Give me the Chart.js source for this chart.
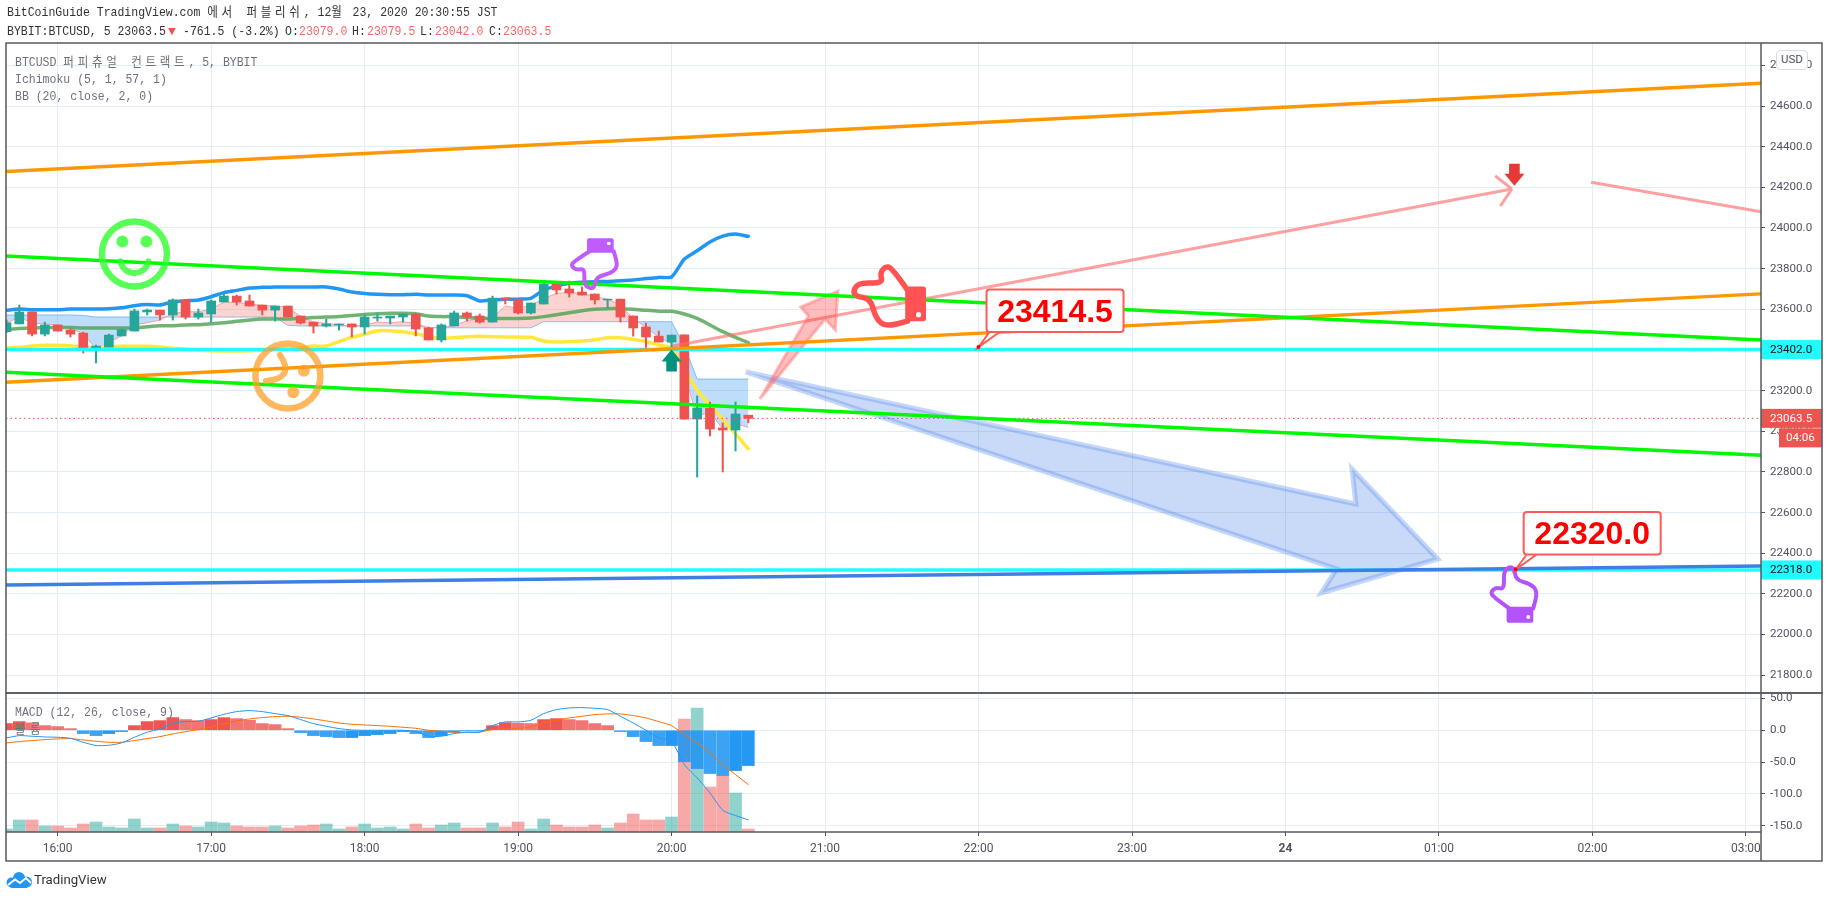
<!DOCTYPE html>
<html>
<head>
<meta charset="utf-8">
<title>BTCUSD</title>
<script src="https://cdn.jsdelivr.net/npm/chart.js@4/dist/chart.umd.js"></script>
<style>
    html, body { margin: 0; background: #fff; width: 1828px; height: 898px; overflow: hidden; }
    canvas { position: absolute; left: 0; top: 0; }
    .t { position: absolute; white-space: pre; font: 13px/14px "Liberation Mono", "Noto Sans CJK KR", monospace; transform: scaleX(.885); transform-origin: 0 0; color: #333; }
    .t span { letter-spacing: 4.2px; }
    .g { color: #6f727c; }
    .r { color: #f7676a; }
    #usd { position: absolute; left: 1776px; top: 50px; width: 30px; height: 18px; background: #fff; border: 1px solid #d6dce5; border-radius: 4px; font: 11.5px/17px Roboto, sans-serif; color: #50535e; text-align: center; }
    #brand { position: absolute; left: 34px; top: 871px; font: 13.2px/18px Roboto, sans-serif; color: #333; }
    #logo { position: absolute; left: 6px; top: 872px; }
</style>
</head>
<body>
<canvas id="mainPane" width="1828" height="898"></canvas>
<canvas id="macdPane" width="1828" height="898"></canvas>

<div class="t" style="left:7px;top:6px">BitCoinGuide TradingView.com <span>에서 퍼블리쉬</span>, 12<span>월</span> 23, 2020 20:30:55 JST</div>
<div class="t" style="left:7px;top:25px">BYBIT:BTCUSD, 5 23063.5</div>
<div class="t" style="left:168px;top:25px;transform:none;font-size:13px;color:#ef5350">▼</div>
<div class="t" style="left:183px;top:25px">-761.5 (-3.2%)</div>
<div class="t" style="left:285px;top:25px">O:</div><div class="t r" style="left:299px;top:25px">23079.0</div>
<div class="t" style="left:352px;top:25px">H:</div><div class="t r" style="left:367px;top:25px">23079.5</div>
<div class="t" style="left:420px;top:25px">L:</div><div class="t r" style="left:435px;top:25px">23042.0</div>
<div class="t" style="left:489px;top:25px">C:</div><div class="t r" style="left:503px;top:25px">23063.5</div>

<div class="t g" style="left:15px;top:56px">BTCUSD <span>퍼피츄얼 컨트랙트</span>, 5, BYBIT</div>
<div class="t g" style="left:15px;top:73px">Ichimoku (5, 1, 57, 1)</div>
<div class="t g" style="left:15px;top:90px">BB (20, close, 2, 0)</div>
<div class="t g" style="left:15px;top:706px">MACD (12, 26, close, 9)</div>
<div class="t g" style="left:15px;top:723px;letter-spacing:5px">볼륨</div>

<div id="usd">USD</div>
<svg id="logo" width="26" height="16" viewBox="0 0 26 16">
    <circle cx="5.5" cy="10.5" r="5" fill="#2196f3"/>
    <circle cx="13" cy="6" r="6" fill="#2196f3"/>
    <circle cx="20.5" cy="10" r="5.5" fill="#2196f3"/>
    <rect x="5" y="9" width="16" height="7" fill="#2196f3"/>
    <polyline points="2,13 9,7.5 14,11 20,6 25,11" fill="none" stroke="#fff" stroke-width="2"/>
</svg>
<div id="brand">TradingView</div>

<script>
// bars run from 15:40 (-4) to 20:30 (54), one unit is one 5 minute bar, 0 is 16:00
const candleOpen = [23490, 23528, 23587, 23478, 23523, 23498, 23483, 23400, 23414, 23469,
    23493, 23587, 23596, 23572, 23646, 23562, 23577, 23636, 23665, 23641,
    23621, 23596, 23616, 23567, 23537, 23518, 23523, 23528, 23513, 23557,
    23557, 23562, 23577, 23508, 23449, 23518, 23582, 23567, 23537, 23655,
    23650, 23582, 23626, 23724, 23700, 23685, 23675, 23646, 23650, 23567,
    23513, 23468, 23439, 23474, 23060, 23114, 23016, 23006, 23079];
const candleHigh = [23547, 23621, 23587, 23537, 23523, 23503, 23488, 23424, 23478, 23503,
    23601, 23601, 23596, 23651, 23646, 23601, 23646, 23680, 23670, 23670,
    23621, 23616, 23616, 23567, 23537, 23552, 23528, 23528, 23572, 23577,
    23567, 23577, 23577, 23513, 23528, 23591, 23587, 23577, 23665, 23655,
    23650, 23631, 23729, 23734, 23739, 23710, 23675, 23650, 23650, 23567,
    23532, 23493, 23473, 23474, 23174, 23144, 23041, 23144, 23079.5];
const candleLow = [23485, 23528, 23469, 23469, 23493, 23464, 23385, 23336, 23414, 23469,
    23493, 23572, 23547, 23547, 23552, 23552, 23537, 23636, 23621, 23616,
    23572, 23542, 23562, 23528, 23483, 23513, 23498, 23464, 23478, 23542,
    23528, 23537, 23469, 23449, 23439, 23518, 23542, 23532, 23537, 23626,
    23577, 23577, 23626, 23675, 23660, 23670, 23626, 23606, 23537, 23468,
    23409, 23439, 23400, 23060, 22775, 22977, 22800, 22903, 23042];
const candleClose = [23534, 23587, 23478, 23523, 23493, 23478, 23400, 23419, 23473, 23500,
    23592, 23596, 23572, 23646, 23562, 23582, 23641, 23665, 23636, 23616,
    23596, 23616, 23562, 23533, 23518, 23528, 23528, 23513, 23562, 23562,
    23567, 23577, 23503, 23449, 23523, 23582, 23562, 23537, 23655, 23646,
    23582, 23631, 23724, 23695, 23680, 23670, 23646, 23650, 23562, 23508,
    23464, 23439, 23473, 23060, 23114, 23011, 23006, 23085, 23063.5];

const bbUpper = [23595, 23601, 23598, 23598, 23598, 23601, 23601, 23601, 23603, 23608,
    23618, 23623, 23621, 23637, 23642, 23646, 23662, 23682, 23693, 23705,
    23708, 23710, 23710, 23710, 23710, 23710, 23700, 23685, 23678, 23674,
    23672, 23672, 23674, 23670, 23670, 23670, 23667, 23641, 23646, 23650,
    23650, 23654, 23695, 23714, 23728, 23733, 23736, 23737, 23741, 23744,
    23751, 23757, 23759, 23847, 23888, 23931, 23960, 23970, 23959];
const bbBasis = [23501, 23505, 23508, 23510, 23510, 23510, 23508, 23508, 23508, 23508,
    23508, 23514, 23519, 23519, 23523, 23524, 23529, 23534, 23541, 23547,
    23552, 23552, 23552, 23556, 23560, 23562, 23565, 23570, 23575, 23578,
    23580, 23580, 23578, 23567, 23564, 23564, 23560, 23557, 23555, 23555,
    23555, 23557, 23564, 23573, 23583, 23593, 23600, 23603, 23603, 23600,
    23595, 23591, 23590, 23577, 23555, 23523, 23490, 23462, 23436];
const bbLower = [23410, 23413, 23419, 23423, 23423, 23421, 23413, 23413, 23416, 23418,
    23418, 23418, 23414, 23408, 23403, 23400, 23396, 23395, 23395, 23396,
    23400, 23403, 23408, 23411, 23419, 23419, 23441, 23462, 23478, 23495,
    23495, 23490, 23480, 23465, 23457, 23460, 23465, 23467, 23465, 23464,
    23464, 23462, 23444, 23439, 23441, 23444, 23450, 23460, 23460, 23452,
    23442, 23424, 23411, 23301, 23203, 23129, 23059, 22987, 22914];

const cloudLeadA = [23531, 23564, 23531, 23528, 23523, 23506, 23482, 23403, 23436, 23469,
    23523, 23534, 23547, 23580, 23588, 23588, 23600, 23636, 23633, 23626,
    23619, 23616, 23610, 23564, 23537, 23531, 23523, 23515, 23523, 23537,
    23534, 23539, 23531, 23509, 23511, 23519, 23544, 23554, 23560, 23616,
    23605, 23619, 23654, 23678, 23683, 23677, 23664, 23649, 23621, 23555,
    23511, 23462, 23432, 23285, 23069, 23097, 23010, 23036, 23019];
const cloudLeadB = [23572, 23572, 23572, 23572, 23572, 23572, 23570, 23562, 23562, 23562,
    23562, 23562, 23562, 23562, 23562, 23562, 23562, 23562, 23562, 23562,
    23562, 23562, 23521, 23518, 23518, 23518, 23518, 23518, 23518, 23518,
    23518, 23518, 23518, 23509, 23509, 23509, 23509, 23509, 23509, 23509,
    23509, 23509, 23539, 23539, 23539, 23539, 23539, 23539, 23539, 23539,
    23539, 23539, 23539, 23420, 23257, 23257, 23257, 23257, 23257];

const macdHist = [10.5, 13.6, 11.5, 7.3, 5.8, 2.6, -5.2, -8.4, -5.2, -2.1,
    7.3, 13.6, 15.2, 19.9, 16.8, 15.2, 16.8, 19.9, 18.3, 15.7,
    10.5, 8.9, 2.6, -3.7, -8.4, -10, -11.5, -11.5, -8.4, -6.8,
    -5.2, -2.1, -5.2, -11.5, -8.4, -3.1, -0.5, -0.5, 7.3, 12,
    11, 10.5, 16.8, 18.3, 16.8, 15.2, 10.5, 7.3, -2.1, -10,
    -17.8, -24.1, -24.1, -49.3, -60.3, -68.1, -71.3, -63.4, -55.5];
const macdLine = [-12, -8.4, -9.4, -10.5, -11, -12.6, -18.9, -24, -23.6, -19.9,
    -11, -3.1, 2.1, 11.5, 13.6, 14.1, 19.4, 25.2, 29.3, 30.9,
    29.3, 26.2, 23.1, 16.8, 10.5, 6.3, 2.6, 0.5, 0, 0,
    0, 0, -1.6, -9.4, -9.4, -5.2, -3.1, -3.1, 7.3, 13.1,
    13.1, 15.7, 26.2, 32.5, 35.1, 35.6, 34.6, 32.5, 22, 11.5,
    0, -12, -17.3, -54, -74.9, -98.5, -125.8, -134.1, -141];
const macdSignal = [-19.9, -17.8, -16.2, -14.7, -13.6, -13.1, -15.2, -17.3, -18.9, -18.9,
    -16.2, -13.1, -10, -5.8, -2.1, 1, 5.2, 10, 14.7, 17.8,
    19.9, 21.5, 22, 20.4, 17.8, 14.7, 11.5, 9.4, 8.4, 7.3,
    6.3, 4.7, 3.1, 0, -1.6, -3.1, -3.1, -2.6, 1, 2.1,
    3.1, 5.2, 11.5, 15.7, 19.4, 22, 24.6, 25.7, 25.7, 23.1,
    19.4, 13.6, 7.3, -6.8, -19.9, -35.6, -54, -69.7, -85.4];
const volume = [9, 36, 36, 18, 18, 12, 24, 30, 15, 12,
    39, 12, 12, 24, 18, 15, 30, 27, 18, 15,
    15, 18, 12, 18, 21, 24, 9, 15, 24, 12,
    15, 9, 24, 12, 21, 27, 12, 12, 27, 15,
    30, 9, 39, 21, 15, 15, 21, 12, 27, 54,
    36, 36, 45, 339, 372, 135, 168, 117, 9];

// drawings on the chart, [bar, price] pairs
const orangeUpper = [[-4.04, 24278], [133.2, 24712]];
const orangeLower = [[-4.04, 23241], [133.2, 23676]];
const greenUpper = [[-4.04, 23862], [133.2, 23449]];
const greenLower = [[-4.04, 23290], [133.2, 22882]];
const blueSupport = [[-4.04, 22244], [133.2, 22337]];
const cyanLevels = [23402, 22318];
const pinkRise = [[48.1, 23419], [113.7, 24192]];
const pinkHeadTop = [[112.4, 24256], [113.7, 24192]];
const pinkHeadBottom = [[112.8, 24108], [113.7, 24192]];
const pinkFall = [[119.9, 24225], [133.2, 24080]];
const blueArrow = [[53.8, 23292], [101.5, 22642], [101.2, 22814], [107.9, 22372], [98.8, 22205], [100, 22323], [53.8, 23292]];
const redArrow = [[54.9, 23159], [58.7, 23567], [58.1, 23611], [61, 23690], [60.8, 23498], [60, 23552], [54.9, 23159]];
const calloutBars = [72, 114];
const calloutPrices = [23414.5, 22320];

const lastPrice = 23063.5;
const countdown = '04:06';
const priceTicks = [21800, 22000, 22200, 22400, 22600, 22800, 23000, 23200, 23400, 23600, 23800, 24000, 24200, 24400, 24600, 24800];
const macdTicks = [50, 0, -50, -100, -150];
const timeTicks = [0, 12, 24, 36, 48, 60, 72, 84, 96, 108, 120, 132];
const timeLabels = ['16:00', '17:00', '18:00', '19:00', '20:00', '21:00', '22:00', '23:00', '24', '01:00', '02:00', '03:00'];

const UP = '#26a69a';
const DOWN = '#ef5350';
const GRID = '#e4edf3';
const TEXT = '#50535e';
const FRAME = '#55585f';
const xRange = { min: -4.04, max: 133.18 };

const bars = candleOpen.map((_, n) => n - 4);
const candleColors = candleOpen.map((o, n) => candleClose[n] >= o ? UP : DOWN);
const series = values => values.map((v, n) => ({ x: bars[n], y: v }));
const pairs = list => list.map(p => ({ x: p[0], y: p[1] }));

function trend(list, color, width) {
    return { type: 'line', data: pairs(list), borderColor: color, borderWidth: width, pointRadius: 0, fill: false, tension: 0 };
}

function polygon(list, fillColor, lineColor, width) {
    return { type: 'line', data: pairs(list), borderColor: lineColor, backgroundColor: fillColor, borderWidth: width, pointRadius: 0, fill: 'shape', tension: 0 };
}

function level(price, color, width) {
    return trend([[xRange.min, price], [xRange.max, price]], color, width);
}

function indicator(values, color, width) {
    return { type: 'line', data: series(values), borderColor: color, borderWidth: width, pointRadius: 0, fill: false, tension: 0.2, borderCapStyle: 'round' };
}

function drawFrame(chart, bottom) {
    const { ctx, chartArea } = chart;
    ctx.save();
    ctx.strokeStyle = FRAME;
    ctx.lineWidth = 1.5;
    ctx.strokeRect(6, chartArea.top, 1816, bottom - chartArea.top);
    ctx.beginPath();
    ctx.moveTo(chartArea.right, chartArea.top);
    ctx.lineTo(chartArea.right, bottom);
    ctx.stroke();
    ctx.restore();
}

// hand icon, points are relative to the finger tip
const handOutline = [[0, 41.7], [-16.7, 30], [-18.3, 25], [-13.3, 20.7], [-5, 22.7], [-5.7, 5], [0, 0], [5, 1.7], [6.7, 13.3], [21.7, 17.3], [28.3, 25], [24, 41.7]];

function drawHand(ctx, x, y, m, color, lineWidth) {
    ctx.save();
    ctx.save();
    ctx.transform(m[0], m[1], m[2], m[3], x, y);
    ctx.beginPath();
    handOutline.forEach((p, n) => {
        const next = handOutline[n + 1];
        if (n === 0) ctx.moveTo(p[0], p[1]);
        else if (next) ctx.quadraticCurveTo(p[0], p[1], (p[0] + next[0]) / 2, (p[1] + next[1]) / 2);
        else ctx.lineTo(p[0], p[1]);
    });
    ctx.restore();
    ctx.strokeStyle = color;
    ctx.lineWidth = lineWidth;
    ctx.lineJoin = 'round';
    ctx.lineCap = 'round';
    ctx.stroke();
    ctx.save();
    ctx.transform(m[0], m[1], m[2], m[3], x, y);
    ctx.beginPath();
    ctx.roundRect(-2.7, 40, 26.7, 16, 2);
    ctx.fillStyle = color;
    ctx.fill();
    ctx.beginPath();
    ctx.arc(19, 50.3, 2, 0, Math.PI * 2);
    ctx.fillStyle = '#fff';
    ctx.fill();
    ctx.restore();
    ctx.restore();
}

function drawMarker(ctx, x, y, dir, color) {
    ctx.save();
    ctx.translate(x, y);
    ctx.scale(1, dir);
    ctx.beginPath();
    ctx.moveTo(0, 0);
    ctx.lineTo(10, 12);
    ctx.lineTo(5.3, 12);
    ctx.lineTo(5.3, 22);
    ctx.lineTo(-5.3, 22);
    ctx.lineTo(-5.3, 12);
    ctx.lineTo(-10, 12);
    ctx.closePath();
    ctx.fillStyle = color;
    ctx.fill();
    ctx.restore();
}

function drawHappyFace(ctx, x, y) {
    ctx.save();
    ctx.strokeStyle = ctx.fillStyle = 'rgba(50,255,50,.82)';
    ctx.lineWidth = 6.5;
    ctx.lineCap = 'round';
    ctx.beginPath();
    ctx.arc(x, y, 32.5, 0, Math.PI * 2);
    ctx.stroke();
    ctx.lineWidth = 6;
    ctx.beginPath();
    ctx.arc(x, y + 5, 14, 0.05 * Math.PI, 0.95 * Math.PI);
    ctx.stroke();
    [[-12, -12.5], [12, -12.5]].forEach(p => {
        ctx.beginPath();
        ctx.arc(x + p[0], y + p[1], 6, 0, Math.PI * 2);
        ctx.fill();
    });
    ctx.restore();
}

function drawTiltedFace(ctx, x, y) {
    ctx.save();
    ctx.strokeStyle = ctx.fillStyle = 'rgba(255,160,40,.75)';
    ctx.lineWidth = 6.5;
    ctx.lineCap = 'round';
    ctx.beginPath();
    ctx.arc(x, y, 32.5, 0, Math.PI * 2);
    ctx.stroke();
    ctx.lineWidth = 6;
    ctx.beginPath();
    ctx.moveTo(x - 8, y - 21);
    ctx.quadraticCurveTo(x + 8, y + 2, x - 22, y + 5);
    ctx.stroke();
    [[16, -5.3], [5.4, 16.3]].forEach(p => {
        ctx.beginPath();
        ctx.arc(x + p[0], y + p[1], 6, 0, Math.PI * 2);
        ctx.fill();
    });
    ctx.restore();
}

function drawCallout(ctx, x, y, value) {
    const left = x + 8, top = y - 57.5, w = 137, h = 42.5;
    ctx.save();
    ctx.beginPath();
    ctx.roundRect(left, top, w, h, 3);
    ctx.moveTo(left + 13, top + h);
    ctx.lineTo(x, y);
    ctx.lineTo(left + 3, top + h);
    ctx.fillStyle = '#fff';
    ctx.fill();
    ctx.strokeStyle = '#ff5a5a';
    ctx.lineWidth = 2;
    ctx.stroke();
    ctx.fillStyle = '#ff0000';
    ctx.beginPath();
    ctx.arc(x, y, 2, 0, Math.PI * 2);
    ctx.fill();
    ctx.font = 'bold 32px "Liberation Sans"';
    ctx.textAlign = 'center';
    ctx.textBaseline = 'middle';
    ctx.fillText(value.toFixed(1), left + w / 2, top + h / 2 + 2);
    ctx.restore();
}

function drawTag(ctx, x, y, w, label, bg, fg, textX) {
    ctx.save();
    ctx.fillStyle = bg;
    ctx.fillRect(x, y - 9.5, w, 19);
    ctx.fillStyle = fg;
    ctx.font = '11.6px Roboto';
    ctx.textBaseline = 'middle';
    ctx.fillText(label, textX, y + 0.5);
    ctx.restore();
}

const chartDrawings = {
    id: 'chartDrawings',
    afterDatasetsDraw(chart) {
        const { ctx, scales } = chart;
        const px = b => scales.x.getPixelForValue(b);
        const py = p => scales.y.getPixelForValue(p);
        ctx.save();
        ctx.beginPath();
        ctx.rect(chart.chartArea.left, chart.chartArea.top, chart.chartArea.width, chart.chartArea.height);
        ctx.clip();
        drawHappyFace(ctx, px(6), py(23872));
        drawTiltedFace(ctx, px(18), py(23272));
        drawMarker(ctx, px(48), py(23402), 1, '#00917f');
        drawMarker(ctx, px(113.9), py(24208), -1, '#e53935');
        drawHand(ctx, px(41.6), py(23701), [1, 0, 0, -0.9], '#c05cff', 4);
        drawHand(ctx, px(113.5), py(22334), [1, 0, 0, 1], '#b452ff', 4);
        drawHand(ctx, px(62.2), py(23695), [0, 1.3, 1.3, 0], '#ff5252', 5.5);
        calloutPrices.forEach((p, n) => drawCallout(ctx, px(calloutBars[n]), py(p), p));
        ctx.restore();
    },
    afterDraw(chart) {
        const { ctx, chartArea, scales } = chart;
        const right = chartArea.right;
        cyanLevels.forEach(p => drawTag(ctx, right, scales.y.getPixelForValue(p), 61, p.toFixed(1), '#1ffbff', '#111', right + 9));
        const lastY = scales.y.getPixelForValue(lastPrice);
        drawTag(ctx, right, lastY, 61, lastPrice.toFixed(1), DOWN, '#fff', right + 9);
        drawTag(ctx, right + 18, lastY + 19.5, 43, countdown, DOWN, '#fff', right + 25);
        drawFrame(chart, chartArea.bottom);
    }
};

const macdFrame = {
    id: 'macdFrame',
    afterDraw(chart) {
        drawFrame(chart, 861);
        const { ctx, chartArea } = chart;
        ctx.save();
        ctx.strokeStyle = FRAME;
        ctx.lineWidth = 1.5;
        ctx.beginPath();
        ctx.moveTo(6, chartArea.bottom);
        ctx.lineTo(chartArea.right, chartArea.bottom);
        ctx.stroke();
        ctx.restore();
    }
};

Chart.defaults.animation = false;
Chart.defaults.responsive = false;
Chart.defaults.devicePixelRatio = 1;
Chart.defaults.font.family = 'Roboto';

const lastPriceLine = level(lastPrice, '#ef5350', 1);
lastPriceLine.borderDash = [1.5, 3];

// first dataset ends up on top, so drawings come first and the cloud last
new Chart(document.getElementById('mainPane'), {
    type: 'bar',
    data: {
        datasets: [
            trend(pinkHeadTop, '#ff9f9f', 3),
            trend(pinkHeadBottom, '#ff9f9f', 3),
            trend(pinkFall, '#ff9f9f', 3),
            trend(blueSupport, '#3f7fe4', 3.4),
            level(cyanLevels[1], '#1ffbff', 3.5),
            trend(greenLower, '#00f800', 3.4),
            trend(greenUpper, '#00f800', 3.4),
            trend(orangeUpper, '#ff9800', 3.4),
            trend(orangeLower, '#ff9800', 3.4),
            level(cyanLevels[0], '#1ffbff', 3.5),
            polygon(redArrow, 'rgba(255,50,50,.32)', 'rgba(255,120,120,.5)', 3),
            trend(pinkRise, 'rgba(255,110,110,.65)', 3),
            polygon(blueArrow, 'rgba(60,120,230,.28)', 'rgba(90,140,235,.35)', 5),
            lastPriceLine,
            {
                data: series(candleOpen.map((o, n) => [o, candleClose[n]])),
                backgroundColor: candleColors, barThickness: 9, grouped: false, borderWidth: 0, borderSkipped: false
            },
            {
                data: series(candleLow.map((l, n) => [l, candleHigh[n]])),
                backgroundColor: candleColors, barThickness: 1.4, grouped: false, borderWidth: 0, borderSkipped: false
            },
            indicator(bbUpper, '#2196f3', 3.5),
            indicator(bbLower, '#ffe83b', 3.5),
            indicator(bbBasis, 'rgba(76,160,80,.8)', 3.5),
            {
                type: 'line', data: series(cloudLeadA), borderColor: '#f3a3a3', borderWidth: 1, pointRadius: 0, tension: 0,
                fill: { target: '+1', above: 'rgba(248,120,115,.33)', below: 'rgba(65,155,240,.34)' }
            },
            { type: 'line', data: series(cloudLeadB), borderColor: '#8fc2ef', borderWidth: 1, pointRadius: 0, tension: 0, fill: false }
        ]
    },
    options: {
        layout: { padding: { left: 6, top: 43, right: 6, bottom: 205 } },
        plugins: { legend: { display: false }, tooltip: { enabled: false } },
        scales: {
            x: {
                type: 'linear', min: xRange.min, max: xRange.max, offset: false,
                grid: { color: GRID, offset: false, drawTicks: false },
                border: { display: false },
                ticks: { display: false },
                afterBuildTicks: s => { s.ticks = timeTicks.map(v => ({ value: v })); },
                afterFit: s => { s.height = 0; }
            },
            y: {
                position: 'right', min: 21712.6, max: 24909.9,
                grid: { color: GRID, tickLength: 4, tickColor: TEXT },
                border: { display: false },
                ticks: { color: TEXT, padding: 5, font: { size: 11.6 }, callback: v => v.toFixed(1) },
                afterBuildTicks: s => { s.ticks = priceTicks.map(v => ({ value: v })); },
                afterFit: s => { s.width = 61; }
            }
        }
    },
    plugins: [chartDrawings]
});

new Chart(document.getElementById('macdPane'), {
    type: 'bar',
    data: {
        datasets: [
            indicator(macdLine, '#2196f3', 1),
            indicator(macdSignal, '#ff6d00', 1),
            {
                data: series(macdHist),
                backgroundColor: macdHist.map((v, n) => {
                    const prev = n ? macdHist[n - 1] : v;
                    if (v >= 0) return v >= prev ? 'rgba(239,83,80,.98)' : 'rgba(239,83,80,.8)';
                    return v >= prev ? 'rgba(33,150,243,.98)' : 'rgba(33,150,243,.88)';
                }),
                barThickness: 12, grouped: false, borderWidth: 0
            },
            {
                data: series(volume), yAxisID: 'yVolume',
                backgroundColor: candleColors.map(c => c === UP ? 'rgba(38,166,154,.5)' : 'rgba(239,83,80,.5)'),
                barThickness: 12, grouped: false, borderWidth: 0
            }
        ]
    },
    options: {
        layout: { padding: { left: 6, top: 693, right: 6, bottom: 37 } },
        plugins: { legend: { display: false }, tooltip: { enabled: false } },
        scales: {
            x: {
                type: 'linear', min: xRange.min, max: xRange.max, offset: false,
                grid: { color: GRID, offset: false, tickLength: 4, tickColor: TEXT },
                border: { display: false },
                ticks: {
                    color: TEXT, padding: 6, maxRotation: 0, autoSkip: false,
                    font: c => ({ size: 12, weight: c.tick && c.tick.label === '24' ? 'bold' : 'normal' }),
                    callback: (v, n) => timeLabels[n]
                },
                afterBuildTicks: s => { s.ticks = timeTicks.map(v => ({ value: v })); },
                afterFit: s => { s.height = 29; }
            },
            y: {
                position: 'right', min: -160, max: 58.6,
                grid: { color: GRID, tickLength: 4, tickColor: TEXT },
                border: { display: false },
                ticks: { color: TEXT, padding: 5, font: { size: 11.6 }, callback: v => v.toFixed(1) },
                afterBuildTicks: s => { s.ticks = macdTicks.map(v => ({ value: v })); },
                afterFit: s => { s.width = 61; }
            },
            yVolume: { display: false, min: 0, max: 417 }
        }
    },
    plugins: [macdFrame]
});
</script>
</body>
</html>
